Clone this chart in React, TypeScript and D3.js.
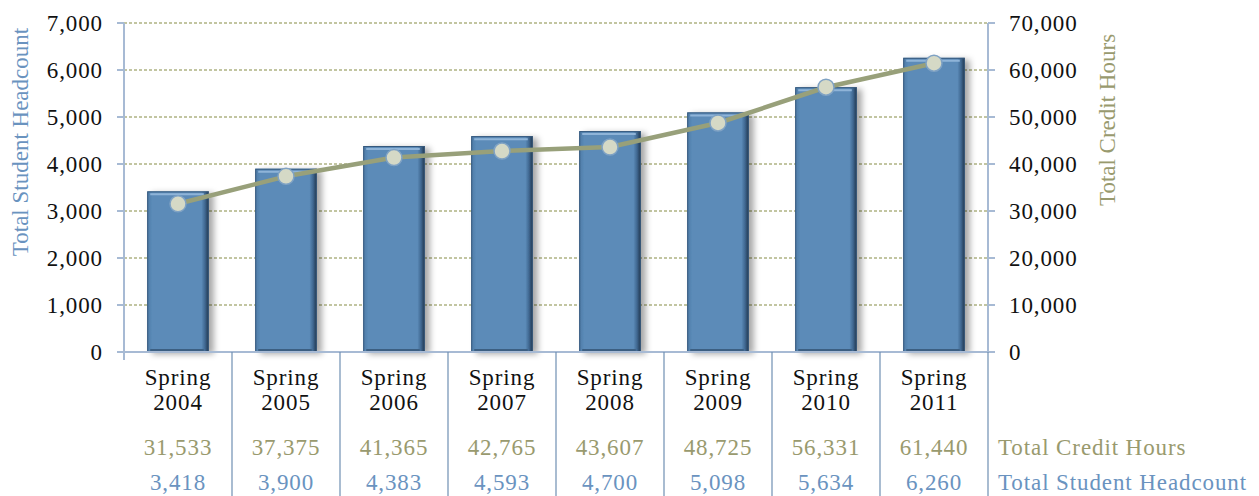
import React from 'react';
import * as d3 from 'd3';

const categories = ['2004', '2005', '2006', '2007', '2008', '2009', '2010', '2011'];
const headcount = [3418, 3900, 4383, 4593, 4700, 5098, 5634, 6260];
const creditHours = [31533, 37375, 41365, 42765, 43607, 48725, 56331, 61440];
const leftTicks = [0, 1000, 2000, 3000, 4000, 5000, 6000, 7000];
const rightTicks = [0, 10000, 20000, 30000, 40000, 50000, 60000, 70000];

const W = 1259;
const H = 496;
const left = 124;
const right = 988;
const top = 23;
const bottom = 352;
const FONT = '"Liberation Serif", "DejaVu Serif", serif';
const FS = 23;
const LS = 0.9;
const BLUE_TXT = '#6a93bf';
const OLIVE_TXT = '#999a6e';

export default function App() {
  const x = d3.scaleBand<string>().domain(categories).range([left, right]).paddingInner(0.43).paddingOuter(0.215);
  const step = (right - left) / categories.length;
  const yL = d3.scaleLinear().domain([0, 7000]).range([bottom, top]);
  const yR = d3.scaleLinear().domain([0, 70000]).range([bottom, top]);
  const fmt = d3.format(',');
  const center = (c: string) => (x(c) as number) + x.bandwidth() / 2;

  const line = d3.line<number>()
    .x((_, i) => center(categories[i]))
    .y(d => yR(d));

  return (
    <svg width={W} height={H} style={{ position: 'absolute', left: 0, top: 0, background: '#fff' }}
      fontFamily={FONT} fontSize={FS} letterSpacing={LS}>
      <defs>
        <filter id="shadow" x="-20%" y="-10%" width="150%" height="130%">
          <feDropShadow dx="5" dy="2" stdDeviation="3" floodColor="#000" floodOpacity="0.35" />
        </filter>
        <linearGradient id="barGrad" x1="0" x2="1" y1="0" y2="0">
          <stop offset="0" stopColor="#4d7aa6" />
          <stop offset="0.08" stopColor="#5b8bb8" />
          <stop offset="0.88" stopColor="#5b8bb8" />
          <stop offset="0.94" stopColor="#3f6790" />
          <stop offset="1" stopColor="#1f3347" />
        </linearGradient>
      </defs>

      {/* gridlines */}
      {leftTicks.filter(t => t > 0).map(t => (
        <line key={t} x1={left} x2={right} y1={yL(t)} y2={yL(t)}
          stroke="#858b45" strokeWidth={1} strokeDasharray="3,2" />
      ))}

      {/* bars */}
      {headcount.map((v, i) => {
        const bx = x(categories[i]) as number;
        const bw = x.bandwidth();
        const by = yL(v);
        const bh = bottom - by;
        return (
          <g key={i}>
            <rect x={bx} y={by} width={bw} height={bh} fill="url(#barGrad)" filter="url(#shadow)" />
            <rect x={bx + 0.5} y={by + 0.5} width={bw - 1} height={bh - 1} fill="none" stroke="#36597d" strokeWidth={1} />
            <line x1={bx + 3} x2={bx + bw - 5} y1={by + 3} y2={by + 3} stroke="#8fb4d8" strokeWidth={2} />
            <line x1={bx + 3} x2={bx + bw - 5} y1={bottom - 2} y2={bottom - 2} stroke="#3c5f82" strokeWidth={2} />
          </g>
        );
      })}

      {/* axes */}
      <line x1={left} x2={left} y1={top} y2={bottom} stroke="#a7bad4" strokeWidth={2} />
      <line x1={right} x2={right} y1={top} y2={bottom} stroke="#a7bad4" strokeWidth={2} />
      <line x1={left - 7} x2={right + 7} y1={bottom} y2={bottom} stroke="#a7bad4" strokeWidth={2} />
      {leftTicks.map(t => (
        <g key={'l' + t}>
          <line x1={left - 7} x2={left} y1={yL(t)} y2={yL(t)} stroke="#a7bad4" strokeWidth={2} />
          <text x={left - 21} y={yL(t)} dy="0.35em" textAnchor="end" fill="#111">{fmt(t)}</text>
        </g>
      ))}
      {rightTicks.map(t => (
        <g key={'r' + t}>
          <line x1={right} x2={right + 7} y1={yR(t)} y2={yR(t)} stroke="#a7bad4" strokeWidth={2} />
          <text x={right + 21} y={yR(t)} dy="0.35em" textAnchor="start" fill="#111">{fmt(t)}</text>
        </g>
      ))}

      {/* axis titles */}
      <text transform={`translate(28,142) rotate(-90)`} textAnchor="middle" letterSpacing={0}
        fill={BLUE_TXT}>Total Student Headcount</text>
      <text transform={`translate(1115,120) rotate(-90)`} textAnchor="middle" letterSpacing={0}
        fill={OLIVE_TXT}>Total Credit Hours</text>

      {/* credit hours line */}
      <path d={line(creditHours) || ''} fill="none" stroke="#98a07a" strokeWidth={4.5} strokeLinejoin="round" />
      {creditHours.map((v, i) => (
        <circle key={i} cx={center(categories[i])} cy={yR(v)} r={8}
          fill="#d5d9c6" stroke="#7fa2c4" strokeWidth={1.5} />
      ))}

      {/* category table */}
      <line x1={left} x2={left} y1={bottom} y2={bottom + 8} stroke="#a7bad4" strokeWidth={2} />
      {categories.map((c, i) => (
        <line key={'s' + i} x1={left + step * (i + 1)} x2={left + step * (i + 1)} y1={bottom} y2={H}
          stroke="#6f8fb3" strokeWidth={1.2} />
      ))}
      {categories.map((c, i) => {
        const cx = left + step * (i + 0.5);
        return (
          <g key={'c' + c}>
            <text x={cx} y={385} textAnchor="middle" fill="#111">Spring</text>
            <text x={cx} y={410} textAnchor="middle" fill="#111">{c}</text>
            <text x={cx} y={455} textAnchor="middle" fill={OLIVE_TXT}>{fmt(creditHours[i])}</text>
            <text x={cx} y={490} textAnchor="middle" fill={BLUE_TXT}>{fmt(headcount[i])}</text>
          </g>
        );
      })}
      <text x={998} y={455} fill={OLIVE_TXT}>Total Credit Hours</text>
      <text x={998} y={490} fill={BLUE_TXT}>Total Student Headcount</text>
    </svg>
  );
}
